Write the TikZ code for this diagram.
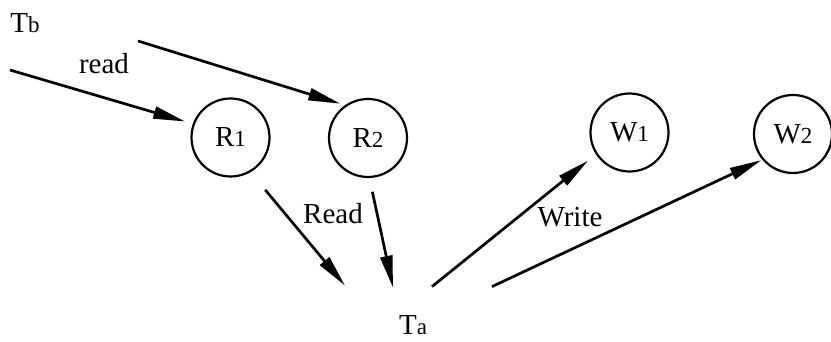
\documentclass[tikz,border=0pt]{standalone}
\usepackage{fontspec}
\setmainfont{Liberation Serif}
\usetikzlibrary{arrows.meta,calc}
\newcommand{\idx}[1]{{\fontsize{11.5}{11.5}\selectfont #1}}

\begin{document}
\begin{tikzpicture}[x=0.5pt,y=-0.5pt,>={Triangle[length=16pt,width=6pt]},
  every node/.style={font=\fontsize{14.5}{16}\selectfont},
  res/.style={circle,draw,line width=1.1pt,minimum size=39pt,inner sep=0pt},
  lbl/.style={inner sep=0pt,anchor=base},
  arr/.style={->,line width=1.35pt}]
  \useasboundingbox (0,0) rectangle (831,342);

  % read and write sets
  \node[res] (R1) at (230.5,137.5) {R\idx{1}};
  \node[res] (R2) at (368,138) {R\idx{2}};
  \node[res] (W1) at (629.5,132.5) {W\idx{1}};
  \node[res] (W2) at (793,134) {W\idx{2}};

  % transactions
  \node[lbl,anchor=base west] (Tb) at (10,33) {T\idx{b}};
  \node[lbl] (Ta) at (413,335) {T\idx{a}};

  \node[lbl] (rdlbl) at (104,74) {read};
  \node[lbl] (Rdlbl) at (333,224) {Read};
  \node[lbl] (wrlbl) at (570,227) {Write};

  \coordinate (rd1) at (10,70);
  \coordinate (rd2) at (138,41);
  \coordinate (ta1) at ($(Ta.north)+(-68,-30)$);
  \coordinate (ta2) at ($(Ta.north)+(-20,-28)$);
  \coordinate (ta3) at ($(Ta.north)+(19,-29)$);
  \coordinate (ta4) at ($(Ta.north)+(79,-29)$);

  \draw[arr,shorten >=4pt] (rd1) -- (R1.160);
  \draw[arr,shorten >=2.5pt] (rd2) -- (R2.125);
  \draw[arr,shorten <=11.5pt] (R1.-60) -- (ta1);
  \draw[arr,shorten <=7pt] (R2.-88) -- (ta2);
  \draw[arr,shorten >=5pt] (ta3) -- (W1.213);
  \draw[arr,shorten >=0.5pt] (ta4) -- (W2.220);
\end{tikzpicture}
\end{document}
